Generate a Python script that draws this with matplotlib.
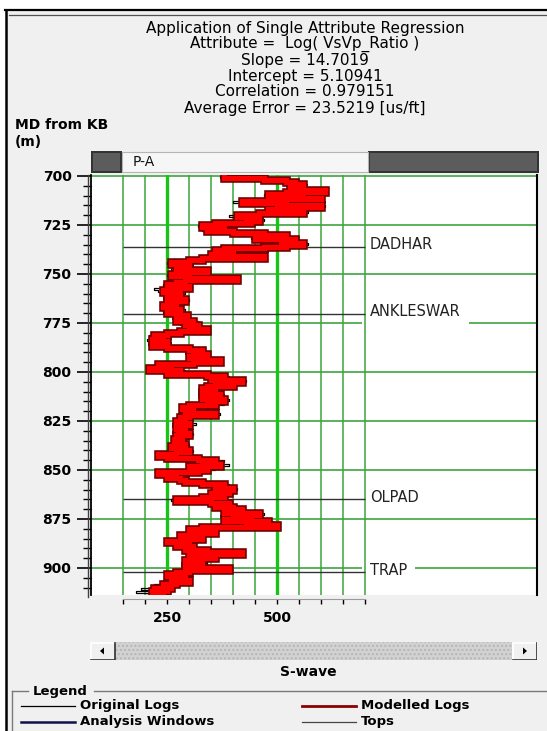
import matplotlib
matplotlib.use("Agg")
import matplotlib.pyplot as plt
from matplotlib.patches import Rectangle, Polygon
from matplotlib.lines import Line2D
import numpy as np

plt.rcParams['font.family'] = ['DejaVu Sans']

# ---------------------------------------------------------------- data
depth_top = 700          # MD (m) of first sample
depth_step = 1           # sample interval (m)

# Modelled S-wave log (us/ft), one value per metre from 700 m
modelled_swave = [
    380, 470, 520, 540, 560, 530, 560, 610, 520, 480,
    560, 600, 500, 420, 520, 600, 500, 480, 560, 460,
    410, 430, 460, 440, 360, 330, 380, 340, 400, 470,
    520, 450, 540, 510, 560, 520, 470, 380, 360, 400,
    350, 470, 330, 300, 260, 280, 300, 270, 340, 290,
    260, 300, 410, 290, 270, 250, 300, 260, 240, 280,
    260, 250, 265, 290, 250, 270, 240, 260, 280, 250,
    270, 295, 280, 270, 310, 290, 320, 300, 340, 280,
    250, 220, 240, 215, 250, 230, 215, 250, 300, 330,
    310, 340, 300, 320, 370, 310, 230, 260, 210, 280,
    250, 340, 380, 350, 420, 360, 400, 340, 330, 360,
    330, 370, 340, 330, 380, 340, 360, 300, 285, 310,
    290, 360, 300, 280, 290, 270, 300, 280, 270, 290,
    275, 300, 270, 285, 265, 280, 270, 290, 260, 280,
    300, 270, 230, 250, 320, 360, 330, 370, 300, 340,
    320, 230, 270, 250, 280, 290, 330, 380, 360, 400,
    370, 390, 350, 380, 330, 270, 350, 390, 360, 400,
    420, 380, 460, 400, 440, 380, 480, 430, 500, 330,
    300, 360, 310, 280, 330, 290, 250, 300, 270, 310,
    290, 340, 420, 300, 360, 330, 290, 330, 310, 290,
    390, 300, 270, 250, 290, 260, 300, 270, 240, 260,
    220, 250, 215, 240, 225, 235,
]

# Original S-wave log (us/ft), same sampling
original_swave = [
    370, 480, 510, 550, 545, 540, 570, 600, 500, 470,
    570, 590, 510, 400, 530, 610, 490, 470, 570, 450,
    390, 420, 470, 430, 350, 320, 390, 330, 410, 460,
    530, 440, 550, 500, 570, 510, 460, 370, 350, 410,
    340, 460, 320, 290, 250, 270, 310, 260, 330, 280,
    250, 310, 400, 280, 260, 240, 290, 220, 230, 290,
    250, 240, 270, 300, 240, 275, 235, 265, 290, 240,
    280, 300, 270, 285, 320, 280, 330, 310, 345, 270,
    240, 210, 245, 205, 245, 220, 210, 255, 310, 335,
    320, 345, 310, 330, 375, 300, 220, 265, 205, 290,
    240, 350, 390, 345, 430, 370, 410, 350, 340, 370,
    345, 380, 355, 345, 390, 360, 380, 310, 280, 320,
    295, 370, 310, 290, 300, 285, 315, 300, 290, 305,
    300, 310, 295, 300, 290, 295, 285, 300, 275, 290,
    310, 280, 240, 260, 340, 380, 350, 390, 310, 360,
    345, 240, 280, 260, 290, 300, 340, 390, 370, 410,
    380, 400, 360, 385, 335, 260, 355, 395, 370, 410,
    430, 390, 470, 410, 450, 385, 490, 440, 505, 320,
    295, 365, 305, 275, 335, 285, 245, 305, 265, 315,
    300, 345, 410, 305, 365, 335, 300, 340, 320, 300,
    380, 305, 275, 245, 280, 250, 290, 255, 220, 245,
    190, 230, 180, 215, 200, 210,
]

top_names = ["DADHAR", "ANKLESWAR", "OLPAD", "TRAP"]
top_depths = [736.2, 770.4, 864.8, 902.3]

title_lines = [
    "Application of Single Attribute Regression",
    "Attribute =  Log( VsVp_Ratio )",
    "Slope = 14.7019",
    "Intercept = 5.10941",
    "Correlation = 0.979151",
    "Average Error = 23.5219 [us/ft]",
]

depth_ticks = [700, 725, 750, 775, 800, 825, 850, 875, 900]
value_ticks = [150, 200, 250, 300, 350, 400, 450, 500, 550, 600, 650, 700]
value_labels = ["", "", "250", "", "", "", "", "500", "", "", "", ""]

depth = depth_top + depth_step * np.arange(len(modelled_swave))

# ---------------------------------------------------------------- figure
W, H = 547, 731
fig = plt.figure(figsize=(W / 100, H / 100), dpi=100)
fig.patch.set_facecolor("white")


def fx(x):
    return x / W


def fy(y):
    return 1 - y / H


def fline(x0, y0, x1, y1, **kw):
    fig.add_artist(Line2D([fx(x0), fx(x1)], [fy(y0), fy(y1)],
                          transform=fig.transFigure, **kw))


# window panel
fig.add_artist(Rectangle((fx(6), 0), 1 - fx(6), fy(10), transform=fig.transFigure,
                         facecolor="#f0f0f0", edgecolor="none", zorder=0))
fline(5, 10, 547, 10, color="black", lw=1.6)
fline(9, 14.5, 547, 14.5, color="#505050", lw=0.9)
fline(6, 10, 6, 731, color="black", lw=1.8)

# title block
for i, s in enumerate(title_lines):
    fig.text(fx(305), fy(28 + i * 16), s, ha="center", va="center",
             fontsize=11, color="black")

fig.text(fx(15), fy(125), "MD from KB", ha="left", va="center",
         fontsize=10, fontweight="bold")
fig.text(fx(15), fy(142), "(m)", ha="left", va="center",
         fontsize=10, fontweight="bold")

# ---------------------------------------------------------------- log track
ax = fig.add_axes([fx(91), fy(595), fx(537) - fx(91), (595 - 175) / H])
ax.set_facecolor("white")
ax.set_xlim(77.3, 1091)
ax.set_ylim(913.8, 699.5)

for v in value_ticks:
    if v in (250, 500):
        ax.axvline(v, color="#19c419", lw=2.4, zorder=4)
    else:
        ax.axvline(v, color="#3aa53a", lw=1.1, zorder=4)
for d in depth_ticks:
    ax.axhline(d, color="#2e9e2e", lw=1.1, zorder=2)

# formation tops
ax.hlines(top_depths, 150, 700, color="#333333", lw=1.0, zorder=4.5)
for name, d in zip(top_names, top_depths):
    ax.text(711, d - 1.0, name, ha="left", va="center", fontsize=10.5,
            color="#222222", zorder=3,
            bbox=dict(boxstyle="square,pad=0.55", facecolor="white",
                      edgecolor="none"))

# logs
ax.plot(original_swave, depth, drawstyle="steps-pre", color="black",
        lw=0.9, zorder=5)
ax.plot(modelled_swave, depth, drawstyle="steps-pre", color="#7a0000",
        lw=6.2, zorder=6, solid_joinstyle="miter")
ax.plot(modelled_swave, depth, drawstyle="steps-pre", color="#ff0000",
        lw=3.6, zorder=7, solid_joinstyle="miter")

# axes decoration
ax.spines["top"].set_visible(False)
ax.spines["left"].set_color("black")
ax.spines["left"].set_linewidth(1.3)
ax.spines["right"].set_color("black")
ax.spines["right"].set_linewidth(1.5)
ax.spines["bottom"].set_position(("outward", 3))
ax.spines["bottom"].set_bounds(150, 700)
ax.spines["bottom"].set_color("#9a9a9a")
ax.spines["bottom"].set_linewidth(0.8)

ax.set_yticks(depth_ticks)
ax.set_yticklabels([str(d) for d in depth_ticks], fontsize=10, fontweight="bold")
ax.set_yticks(list(range(700, 915, 5)), minor=True)
ax.tick_params(axis="y", which="major", direction="out", length=10,
               width=1.2, pad=4, colors="black")
ax.tick_params(axis="y", which="minor", direction="out", length=5.5,
               width=1.0, colors="black")

ax.set_xticks(value_ticks)
ax.set_xticklabels(value_labels, fontsize=10, fontweight="bold")
ax.tick_params(axis="x", which="major", direction="out", length=3.5,
               width=1.0, pad=5, colors="black")

# inner rule of the double depth axis
fline(88, 175, 88, 597, color="#404040", lw=1.0)

# ---------------------------------------------------------------- header bar
hax = fig.add_axes([fx(91), fy(173), fx(539) - fx(91), (173 - 151) / H])
hax.set_xlim(91, 539)
hax.set_ylim(173, 151)
hax.axis("off")
for x0, w in ((91, 31), (368, 171)):
    hax.add_patch(Rectangle((x0, 151), w, 22, facecolor="#333333",
                            edgecolor="none"))
    hax.add_patch(Rectangle((x0 + 2, 153), w - 4, 18, facecolor="#5c5c5c",
                            edgecolor="none"))
hax.add_patch(Rectangle((122, 152), 246, 20, facecolor="#f6f6f6",
                        edgecolor="#b4b4b4", lw=0.8))
hax.text(133, 162, "P-A", ha="left", va="center", fontsize=10, color="#111111")

# ---------------------------------------------------------------- scroll bar
sax = fig.add_axes([fx(90), fy(660), fx(537) - fx(90), 18 / H])
sax.set_xlim(90, 537)
sax.set_ylim(660, 642)
sax.axis("off")
sax.add_patch(Rectangle((115, 642), 397, 18, facecolor="#d2d2d2",
                        edgecolor="#b5b5b5", hatch="....", lw=0))
for bx in (90, 512):
    sax.add_patch(Rectangle((bx, 642), 25, 18, facecolor="#f0f0f0",
                            edgecolor="none"))
    sax.plot([bx + 0.5, bx + 0.5, bx + 24.5], [659.5, 642.5, 642.5],
             color="white", lw=1.2)
    sax.plot([bx + 0.5, bx + 24.5, bx + 24.5], [659.5, 659.5, 642.5],
             color="#303030", lw=1.2)
sax.add_patch(Polygon([[100, 651], [104, 647.5], [104, 654.5]],
                      closed=True, facecolor="black", edgecolor="none"))
sax.add_patch(Polygon([[527, 651], [523, 647.5], [523, 654.5]],
                      closed=True, facecolor="black", edgecolor="none"))

fig.text(fx(308), fy(672), "S-wave", ha="center", va="center",
         fontsize=10, fontweight="bold")

# ---------------------------------------------------------------- legend box
fline(12, 691, 28, 691, color="#7a7a7a", lw=1.0)
fline(94, 691, 547, 691, color="#7a7a7a", lw=1.0)
fline(12, 691, 12, 731, color="#7a7a7a", lw=1.0)
fig.text(fx(33), fy(691), "Legend", ha="left", va="center",
         fontsize=9.5, fontweight="bold")

legend_entries = [
    (21, 706, "Original Logs", "black", 0.9),
    (21, 722, "Analysis Windows", "#10104a", 1.8),
    (302, 706, "Modelled Logs", "#8b0000", 2.0),
    (302, 722, "Tops", "#444444", 0.9),
]
for x0, y0, label, col, lw in legend_entries:
    fline(x0, y0, x0 + 54, y0, color=col, lw=lw)
    fig.text(fx(x0 + 59), fy(y0), label, ha="left", va="center",
             fontsize=9.5, fontweight="bold")

fig.savefig("out.png", dpi=100, facecolor=fig.get_facecolor())
